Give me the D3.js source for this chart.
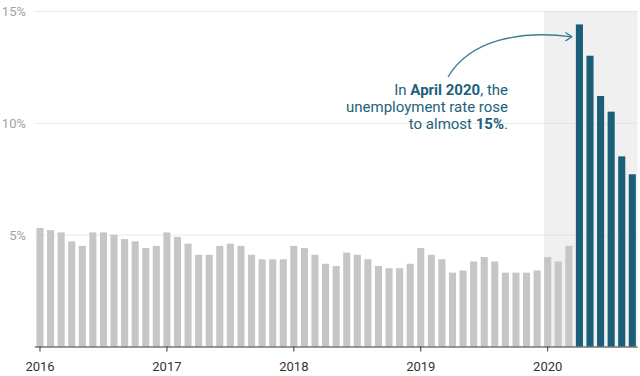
<!DOCTYPE html>
<html>
<head>
<meta charset="utf-8">
<script src="https://cdn.jsdelivr.net/npm/d3@7"></script>
<style>
  body { margin: 0; background: #fff; }
  svg { display: block; font-family: Roboto, "Noto Sans", sans-serif; }
</style>
</head>
<body>
<svg id="chart" width="640" height="376"></svg>
<script>
// monthly unemployment rate, Jan 2016 - Sep 2020
var months = [];
var startYear = 2016;
for (var i = 0; i < 57; i++) {
    months.push((startYear + Math.floor(i / 12)) + "-" + String(i % 12 + 1).padStart(2, "0"));
}
var rates = [
    5.3, 5.2, 5.1, 4.7, 4.5, 5.1, 5.1, 5.0, 4.8, 4.7, 4.4, 4.5,
    5.1, 4.9, 4.6, 4.1, 4.1, 4.5, 4.6, 4.5, 4.1, 3.9, 3.9, 3.9,
    4.5, 4.4, 4.1, 3.7, 3.6, 4.2, 4.1, 3.9, 3.6, 3.5, 3.5, 3.7,
    4.4, 4.1, 3.9, 3.3, 3.4, 3.8, 4.0, 3.8, 3.3, 3.3, 3.3, 3.4,
    4.0, 3.8, 4.5, 14.4, 13.0, 11.2, 10.5, 8.5, 7.7
];
var yearTicks = ["2016-01", "2017-01", "2018-01", "2019-01", "2020-01"];
var yTicks = [5, 10, 15];
var shadeFrom = "2020-01";
var highlightFrom = "2020-04";

var svg = d3.select("#chart");
var plotLeft = 34.7, plotRight = 637.6, plotTop = 11, plotBottom = 346.5;

var x = d3.scaleBand()
    .domain(months)
    .range([plotLeft, plotRight])
    .paddingInner(0.33)
    .paddingOuter(0.165);

var y = d3.scaleLinear().domain([0, 15]).range([plotBottom, plotTop]);

// shaded period
svg.append("rect")
    .attr("x", x(shadeFrom))
    .attr("y", y(15))
    .attr("width", plotRight - x(shadeFrom))
    .attr("height", plotBottom - y(15))
    .attr("fill", "#f0f0f0");

// gridlines + y labels
var gy = svg.append("g")
    .attr("transform", "translate(" + plotLeft + ",0)")
    .call(d3.axisLeft(y).tickValues(yTicks).tickSize(-(plotRight - plotLeft)).tickFormat(function (d) { return d + "%"; }));
gy.select(".domain").remove();
gy.selectAll(".tick line")
    .attr("stroke", "#d4d4d4")
    .attr("stroke-dasharray", "1,1");
gy.selectAll(".tick text")
    .attr("x", 26 - plotLeft)
    .attr("dy", "0.36em")
    .attr("fill", "#a3a3a3")
    .style("font-size", "13px")
    .style("font-family", "Roboto, sans-serif");

// bars
svg.selectAll(".bar")
    .data(months)
    .enter().append("rect")
    .attr("class", "bar")
    .attr("x", function (d) { return x(d); })
    .attr("width", x.bandwidth())
    .attr("y", function (d, i) { return y(rates[i]); })
    .attr("height", function (d, i) { return plotBottom - y(rates[i]); })
    .attr("fill", function (d) { return d >= highlightFrom ? "#1b5e79" : "#c6c6c6"; });

// x axis
var gx = svg.append("g")
    .attr("transform", "translate(0," + plotBottom + ")")
    .call(d3.axisBottom(x).tickValues(yearTicks).tickSize(5).tickPadding(10)
        .tickFormat(function (d) { return d.slice(0, 4); }));
gx.select(".domain")
    .attr("d", "M" + plotLeft + ",0.5H" + plotRight)
    .attr("stroke", "#333")
    .attr("stroke-width", 1.2);
gx.selectAll(".tick line").attr("stroke", "#333");
gx.selectAll(".tick text")
    .attr("fill", "#333")
    .style("font-size", "13px")
    .style("font-family", "Roboto, sans-serif");

// annotation
var teal = "#1d617b";
var note = svg.append("text")
    .attr("text-anchor", "end")
    .attr("fill", teal)
    .style("font-size", "15px");
var l1 = note.append("tspan").attr("x", 508).attr("y", 94.5);
l1.append("tspan").text("In ");
l1.append("tspan").attr("font-weight", "bold").text("April 2020");
l1.append("tspan").text(", the");
note.append("tspan").attr("x", 508).attr("y", 111.5).text("unemployment rate rose");
var l3 = note.append("tspan").attr("x", 508).attr("y", 128.5);
l3.append("tspan").text("to almost ");
l3.append("tspan").attr("font-weight", "bold").text("15%");
l3.append("tspan").text(".");

// arrow
var tipX = x(highlightFrom) - 4, tipY = 36.8;
svg.append("path")
    .attr("d", "M448,77 C470,40 520,30 " + tipX + "," + tipY)
    .attr("fill", "none")
    .attr("stroke", "#3b7b93")
    .attr("stroke-width", 1.3);
svg.append("path")
    .attr("d", "M" + (tipX - 6) + "," + (tipY - 4) + " L" + tipX + "," + tipY + " L" + (tipX - 6) + "," + (tipY + 3.8))
    .attr("fill", "none")
    .attr("stroke", "#3b7b93")
    .attr("stroke-width", 1.3)
    .attr("stroke-linejoin", "round")
    .attr("stroke-linecap", "round");
</script>
</body>
</html>
